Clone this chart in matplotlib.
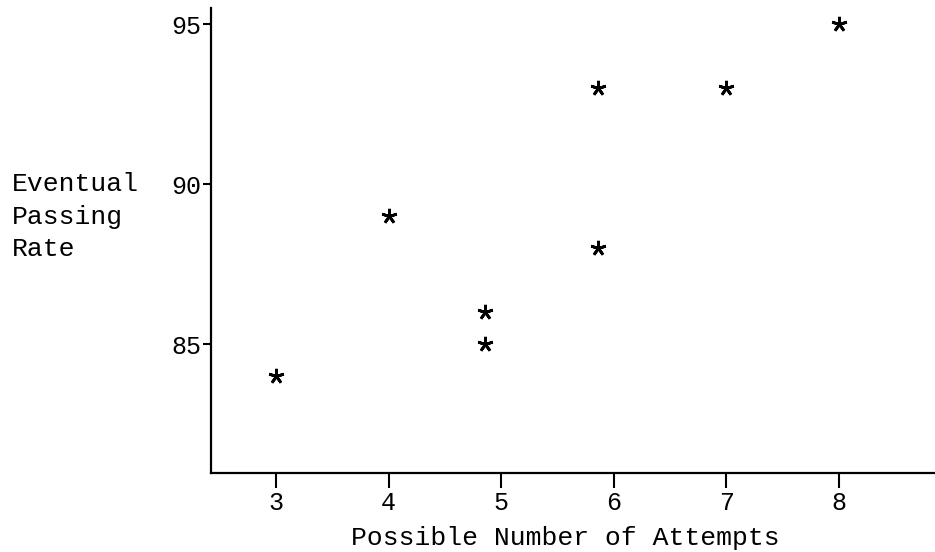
import matplotlib
matplotlib.use("Agg")
import matplotlib.pyplot as plt

# data
attempts = [3, 4, 4.86, 4.86, 5.86, 5.86, 7, 8]
passing_rate = [84, 89, 86, 85, 93, 88, 93, 95]
xticks = [3, 4, 5, 6, 7, 8]
yticks = [85, 90, 95]

plt.rcParams['font.family'] = ['Liberation Mono', 'DejaVu Sans Mono']

fig = plt.figure(figsize=(9.35, 5.52), dpi=100)
ax = fig.add_axes([0.2257, 0.1437, 0.7743, 0.8418])

ax.plot(attempts, passing_rate, linestyle='none', marker=(5, 2, 0),
        markersize=11, markeredgewidth=2, color='black')

ax.set_xlim(2.423, 8.853)
ax.set_ylim(80.98, 95.5)
ax.set_xticks(xticks)
ax.set_yticks(yticks)
ax.tick_params(axis='x', length=10.5, width=1.5, pad=3, labelsize=18)
ax.tick_params(axis='y', length=6, width=1.5, pad=1, labelsize=18)

for side in ['top', 'right']:
    ax.spines[side].set_visible(False)
for side in ['left', 'bottom']:
    ax.spines[side].set_linewidth(1.6)

fig.text(0.605, 0.026, 'Possible Number of Attempts', ha='center',
         va='center', fontsize=19)
fig.text(0.013, 0.607, 'Eventual\nPassing\nRate', ha='left', va='center',
         fontsize=19, linespacing=1.45)

fig.savefig('out.png', dpi=100)
